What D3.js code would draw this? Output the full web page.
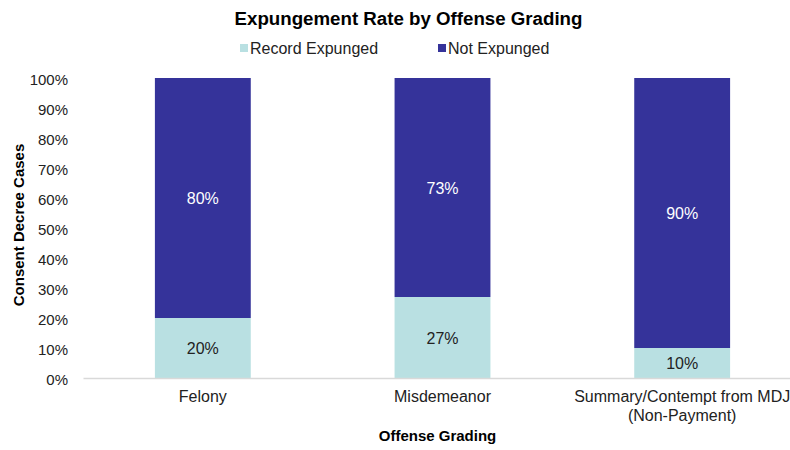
<!DOCTYPE html>
<html>
<head>
<meta charset="utf-8">
<script src="https://cdn.jsdelivr.net/npm/d3@7"></script>
<style>
  html, body { margin: 0; padding: 0; background: #fff; }
  svg { display: block; font-family: "Liberation Sans", Arial, sans-serif; }
</style>
</head>
<body>
<svg id="chart" width="790" height="450"></svg>
<script>
// Offense grading categories (lines split for the axis labels)
const categories = ["Felony", "Misdemeanor", "Summary/Contempt from MDJ\n(Non-Payment)"];
const seriesNames = ["Record Expunged", "Not Expunged"];
const expunged = [20, 27, 10];
const notExpunged = [80, 73, 90];
const yTicks = [0, 10, 20, 30, 40, 50, 60, 70, 80, 90, 100];
const colors = ["#b9e0e2", "#35339a"];

const svg = d3.select("#chart");
const margin = { left: 83, right: -12, top: 78, bottom: 72 };
const W = 790, H = 450;
const FONT = "Liberation Sans, Arial, sans-serif";

const x = d3.scaleBand()
  .domain(categories)
  .range([margin.left, W - margin.right])
  .paddingInner(0.6)
  .paddingOuter(0.3);

const y = d3.scaleLinear().domain([0, 100]).range([H - margin.bottom, margin.top]);

const rows = categories.map((c, i) => ({ cat: c, "Record Expunged": expunged[i], "Not Expunged": notExpunged[i] }));
const stacked = d3.stack().keys(seriesNames)(rows);

// Title
svg.append("text")
  .attr("x", 408.5).attr("y", 25)
  .attr("text-anchor", "middle")
  .attr("font-size", 18.7).attr("font-weight", "bold")
  .attr("fill", "#000")
  .text("Expungement Rate by Offense Grading");

// Legend
const legendX = [240, 438];
seriesNames.forEach((s, i) => {
  const g = svg.append("g").attr("transform", `translate(${legendX[i]},44)`);
  g.append("rect").attr("x", 0).attr("y", 0).attr("width", 8).attr("height", 8).attr("fill", colors[i]);
  g.append("text").attr("x", 10).attr("y", 10).attr("font-size", 16).attr("fill", "#222").text(s);
});

// Bars
const layers = svg.append("g").selectAll("g").data(stacked).join("g")
  .attr("fill", (d, i) => colors[i]);

layers.selectAll("rect").data(d => d).join("rect")
  .attr("x", d => x(d.data.cat))
  .attr("width", x.bandwidth())
  .attr("y", d => y(d[1]))
  .attr("height", d => y(d[0]) - y(d[1]));

// Segment value labels
stacked.forEach((layer, li) => {
  svg.append("g").selectAll("text").data(layer).join("text")
    .attr("x", d => x(d.data.cat) + x.bandwidth() / 2)
    .attr("y", d => (y(d[0]) + y(d[1])) / 2 + 6)
    .attr("text-anchor", "middle")
    .attr("font-size", 16)
    .attr("fill", li === 0 ? "#222" : "#fff")
    .text(d => (d[1] - d[0]) + "%");
});

// Y axis
const yAxis = d3.axisLeft(y).tickValues(yTicks).tickFormat(d => d + "%").tickSize(0).tickPadding(15);
const yg = svg.append("g").attr("transform", `translate(${margin.left},0)`).call(yAxis);
yg.select(".domain").remove();
yg.selectAll("text").attr("font-size", 15).attr("fill", "#222").attr("font-family", FONT).attr("dy", 6);

// X axis
const xg = svg.append("g").attr("transform", `translate(0,${H - margin.bottom})`)
  .call(d3.axisBottom(x).tickSize(0).tickFormat(""));
xg.select(".domain").attr("stroke", "#d9d9d9").attr("stroke-width", 1.3);

xg.selectAll(".tick").each(function (d) {
  const t = d3.select(this).append("text")
    .attr("text-anchor", "middle")
    .attr("font-size", 16).attr("fill", "#222")
    .attr("font-family", FONT);
  d.split("\n").forEach((line, i) => {
    t.append("tspan").attr("x", 0).attr("y", 24 + i * 19).text(line);
  });
});

// Axis titles
svg.append("text")
  .attr("x", 437.5).attr("y", 441)
  .attr("text-anchor", "middle")
  .attr("font-size", 15).attr("font-weight", "bold").attr("fill", "#000")
  .text("Offense Grading");

svg.append("text")
  .attr("transform", `translate(24,225) rotate(-90)`)
  .attr("text-anchor", "middle")
  .attr("font-size", 15).attr("font-weight", "bold").attr("fill", "#000")
  .text("Consent Decree Cases");
</script>
</body>
</html>
